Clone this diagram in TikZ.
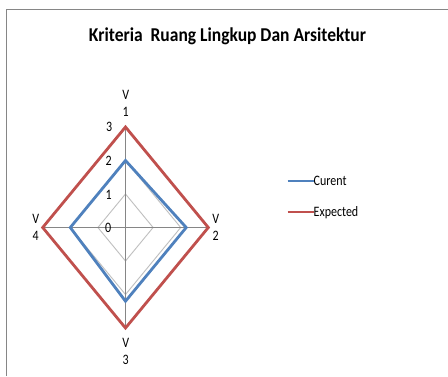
\documentclass[tikz,border=0pt]{standalone}
\usepackage{graphicx}
\usepackage{fontspec}
\setmainfont{Carlito}
\usetikzlibrary{positioning}
\definecolor{gridgray}{RGB}{191,191,191}
\definecolor{axisgray}{RGB}{134,134,134}
\definecolor{framegray}{RGB}{134,134,134}
\definecolor{curblue}{RGB}{79,129,189}
\definecolor{expred}{RGB}{192,80,77}
% 文字纵向拉伸
\newcommand{\tall}[1]{\scalebox{1}[1.2]{#1}}
\begin{document}
\begin{tikzpicture}[x=1pt,y=-1pt,
    ring/.style={draw=gridgray,line width=0.9pt},
    spoke/.style={draw=axisgray,line width=0.9pt},
    series/.style={line width=2.8pt,line join=miter},
    lbl/.style={font=\fontsize{12}{17}\selectfont,inner sep=0pt,align=center},
    tick/.style={font=\fontsize{12}{14}\selectfont,inner sep=0pt,anchor=east},
    legline/.style={line width=2.2pt}]
    \useasboundingbox (0,0) rectangle (448,376);
    \fill[white] (0,0) rectangle (448,376);
    % 边框
    \draw[framegray,line width=1.2pt] (6.5,376) -- (6.5,9.5) -- (448,9.5);
    % 标题
    \node[font=\fontsize{17.5}{20}\selectfont\bfseries,inner sep=0pt] (title) at (227.5,36) {\scalebox{1}[1.12]{Kriteria\ \ Ruang Lingkup Dan Arsitektur}};
    % 雷达图
    \begin{scope}[shift={(125.5,227.5)}]
        \def\hx{27.6}   % 横向单位
        \def\vy{33.5}   % 纵向单位
        \coordinate (O) at (0,0);
        \coordinate (a1) at (0,-3*\vy);
        \coordinate (a2) at (3*\hx,0);
        \coordinate (a3) at (0,3*\vy);
        \coordinate (a4) at (-3*\hx,0);
        % 网格
        \foreach \r in {1,2,3}
            \draw[ring] (0,-\r*\vy) -- (\r*\hx,0) -- (0,\r*\vy) -- (-\r*\hx,0) -- cycle;
        \foreach \a in {a1,a2,a3,a4}
            \draw[spoke] (O) -- (\a);
        % 数据
        \draw[series,curblue] (0,-2*\vy) -- (2.2*\hx,0) -- (0,2.2*\vy) -- (-2*\hx,0) -- cycle;
        \draw[series,expred] (a1) -- (a2) -- (a3) -- (a4) -- cycle;
    \end{scope}
    % 轴标签
    \node[lbl] (v1) at (125.7,103.5) {\tall{V}\\\tall{1}};
    \node[lbl] (v2) at (215.7,227.3) {\tall{V}\\\tall{2}};
    \node[lbl] (v3) at (125.7,351) {\tall{V}\\\tall{3}};
    \node[lbl] (v4) at (35.7,227.3) {\tall{V}\\\tall{4}};
    % 刻度
    \node[tick] (t3) at (112.5,127) {\tall{3}};
    \node[tick] (t2) at (112,161) {\tall{2}};
    \node[tick] (t1) at (112,195) {\tall{1}};
    \node[tick] (t0) at (111.5,228) {\tall{0}};
    % 图例
    \node[lbl,anchor=west] (legcur) at (313.5,180.7) {\tall{Curent}};
    \node[lbl,anchor=west] (legexp) at (313.5,212.3) {\tall{Expected}};
    \draw[legline,curblue] ([xshift=-26pt]legcur.west) -- (legcur.west);
    \draw[legline,expred] ([xshift=-26pt]legexp.west) -- (legexp.west);
\end{tikzpicture}
\end{document}
